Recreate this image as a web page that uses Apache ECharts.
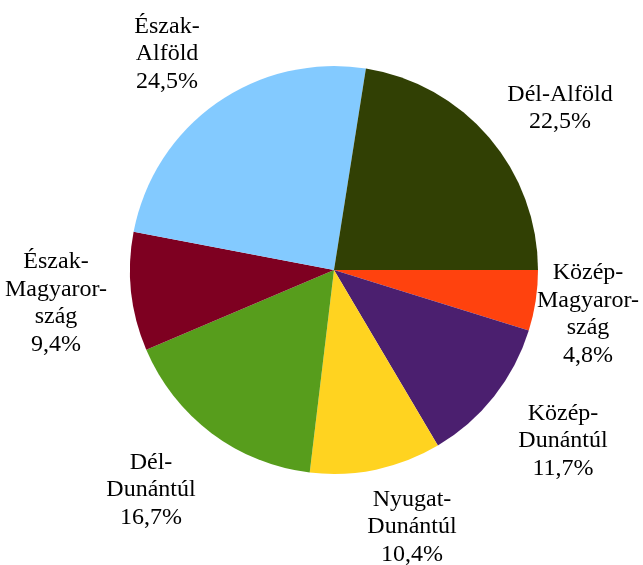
<!DOCTYPE html>
<html>
<head>
<meta charset="utf-8">
<script src="https://cdn.jsdelivr.net/npm/echarts@6/dist/echarts.min.js"></script>
<style>
html,body{margin:0;padding:0;background:#fff;}
#chart{width:643px;height:565px;}
</style>
</head>
<body>
<div id="chart"></div>
<script>
// Data (clockwise from 3 o'clock)
const categories = ['Közép-Magyarország','Közép-Dunántúl','Nyugat-Dunántúl','Dél-Dunántúl','Észak-Magyarország','Észak-Alföld','Dél-Alföld'];
const labelTexts = ['Közép-\nMagyaror-\nszág','Közép-\nDunántúl','Nyugat-\nDunántúl','Dél-\nDunántúl','Észak-\nMagyaror-\nszág','Észak-\nAlföld','Dél-Alföld'];
const values = [4.8, 11.7, 10.4, 16.7, 9.4, 24.5, 22.5];
const colors = ['#ff420e','#4b1f6f','#ffd320','#579d1c','#7e0021','#83caff','#314004'];
// Label anchor positions (centre of each label block)
const labelPos = [[588,314],[563,441],[412,527],[151,490],[56,303],[167,54],[560,108]];

const chart = echarts.init(document.getElementById('chart'));
chart.setOption({
  animation: false,
  backgroundColor: '#ffffff',
  series: [{
    type: 'pie',
    center: [334, 270],
    radius: 204,
    startAngle: 0,
    clockwise: true,
    silent: true,
    data: categories.map((c, i) => ({
      name: c,
      value: values[i],
      itemStyle: { color: colors[i] }
    })),
    itemStyle: { borderWidth: 0 },
    label: {
      show: true,
      position: 'outside',
      formatter: p => labelTexts[p.dataIndex] + '\n' + values[p.dataIndex].toFixed(1).replace('.', ',') + '%',
      fontFamily: 'Liberation Serif',
      fontSize: 24,
      lineHeight: 27.5,
      color: '#000',
      align: 'center',
      width: 140,
      overflow: 'none'
    },
    labelLine: { show: false },
    labelLayout: p => ({
      x: labelPos[p.dataIndex][0],
      y: labelPos[p.dataIndex][1],
      align: 'center',
      verticalAlign: 'middle'
    })
  }]
});
</script>
</body>
</html>
